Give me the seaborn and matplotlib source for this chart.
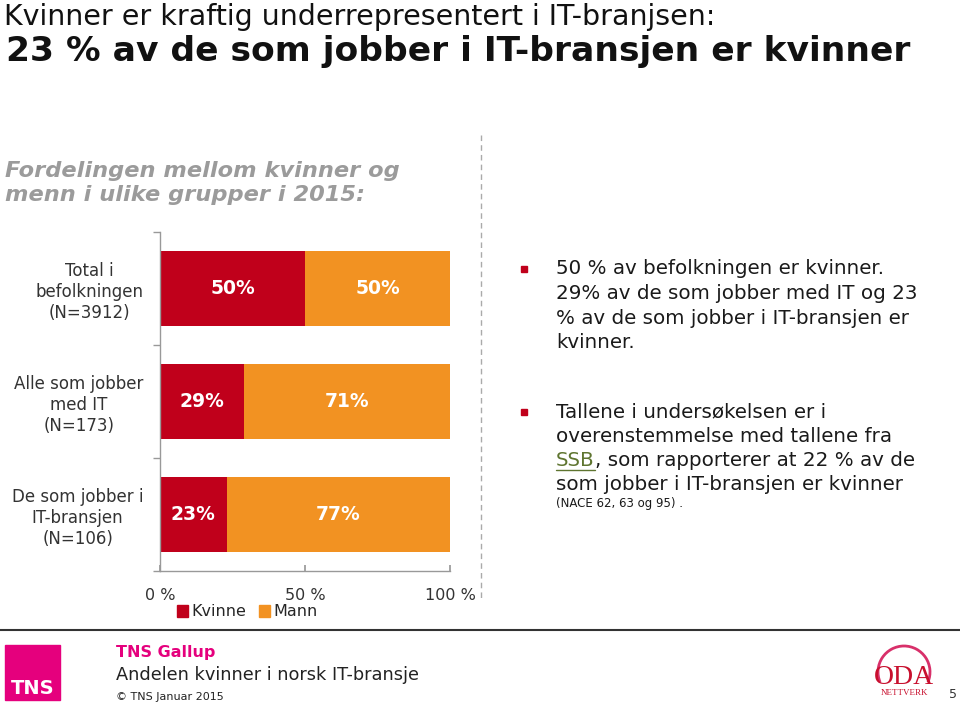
import matplotlib
matplotlib.use("Agg")
import matplotlib.pyplot as plt
import seaborn as sns
from matplotlib.patches import Rectangle, Patch, Arc
from matplotlib.lines import Line2D

# ---- data ----
groups = ["Total i\nbefolkningen\n(N=3912)",
          "Alle som jobber\nmed IT\n(N=173)",
          "De som jobber i\nIT-bransjen\n(N=106)"]
kvinne = [50, 29, 23]
mann = [50, 71, 77]
series_names = ["Kvinne", "Mann"]
x_ticks = [0, 50, 100]
x_ticklabels = ["0 %", "50 %", "100 %"]

RED = "#C0001B"
ORANGE = "#F29222"
MAGENTA = "#E5007D"

sns.set_theme(style="white")
plt.rcParams["font.family"] = ["DejaVu Sans"]

W, H = 960, 705
fig = plt.figure(figsize=(W / 100, H / 100), dpi=100)

def fx(px):
    return px / W

def fy(py):
    return 1 - py / H

# ---- bar chart ----
ax = fig.add_axes([fx(160), fy(571), fx(450) - fx(160), fy(232) - fy(571)])
total = [k + m for k, m in zip(kvinne, mann)]
sns.barplot(x=total, y=groups, color=ORANGE, orient="h", width=0.67,
            saturation=1, linewidth=0, ax=ax)
sns.barplot(x=kvinne, y=groups, color=RED, orient="h", width=0.67,
            saturation=1, linewidth=0, ax=ax)
c_red = ax.containers[1]
ax.bar_label(c_red, labels=[f"{v}%" for v in kvinne], label_type="center",
             color="white", fontweight="bold", fontsize=13.5)
# label orange segments at their visual centre
for i, (k, m) in enumerate(zip(kvinne, mann)):
    ax.text(k + m / 2, i, f"{m}%", ha="center", va="center",
            color="white", fontweight="bold", fontsize=13.5)

ax.set_xlim(0, 100)
ax.set_ylim(2.5, -0.5)
ax.set_xticks(x_ticks)
ax.set_xticklabels(x_ticklabels, fontsize=11.5, color="#333333")
ax.tick_params(axis="x", direction="in", length=4, color="#999999", pad=12,
               bottom=True)
ax.set_yticks([-0.5, 0.5, 1.5, 2.5], minor=True)
ax.tick_params(axis="y", which="minor", length=5, color="#999999", left=True)
ax.tick_params(axis="y", which="major", length=0, pad=12, labelsize=12,
               labelcolor="#333333")
for t in ax.get_yticklabels():
    t.set_multialignment("center")
    t.set_linespacing(1.2)
for s in ["top", "right"]:
    ax.spines[s].set_visible(False)
for s in ["left", "bottom"]:
    ax.spines[s].set_color("#999999")
    ax.spines[s].set_linewidth(1)
ax.set_xlabel("")
ax.set_ylabel("")

handles = [Patch(color=RED), Patch(color=ORANGE)]
fig.legend(handles, series_names, loc="center", bbox_to_anchor=(fx(247), fy(612)),
           ncol=2, frameon=False, fontsize=11.5, handlelength=0.7, handleheight=0.7,
           handletextpad=0.2, columnspacing=0.8, borderpad=0)

# ---- titles ----
fig.text(fx(4), fy(17), "Kvinner er kraftig underrepresentert i IT-branjsen:",
         fontsize=20.5, ha="left", va="center", color="#111111")
fig.text(fx(6), fy(51), "23 % av de som jobber i IT-bransjen er kvinner",
         fontsize=24.8, fontweight="bold", ha="left", va="center", color="#111111")
fig.text(fx(5), fy(183), "Fordelingen mellom kvinner og\nmenn i ulike grupper i 2015:",
         fontsize=16.2, fontweight="bold", style="italic", ha="left", va="center",
         color="#9B9B9B", linespacing=1.2)

# dashed separator
fig.add_artist(Line2D([fx(481), fx(481)], [fy(135), fy(600)], color="#AAAAAA",
                      lw=1, ls=(0, (4, 3))))

# ---- bullet text ----
def bullet(py):
    fig.add_artist(Rectangle((fx(521), fy(py + 3)), fx(6), 6 / H, color=RED,
                             transform=fig.transFigure))

TXT = 14.3
LS = 24.5
bullet(269)
block1 = ["50 % av befolkningen er kvinner.",
          "29% av de som jobber med IT og 23",
          "% av de som jobber i IT-bransjen er",
          "kvinner."]
for i, line in enumerate(block1):
    fig.text(fx(556), fy(269 + i * LS), line, fontsize=TXT, ha="left", va="center",
             color="#1A1A1A")

bullet(412)
block2 = ["Tallene i undersøkelsen er i",
          "overenstemmelse med tallene fra"]
for i, line in enumerate(block2):
    fig.text(fx(556), fy(412 + i * LS), line, fontsize=TXT, ha="left", va="center",
             color="#1A1A1A")
ssb = fig.text(fx(556), fy(460), "SSB", fontsize=TXT, ha="left", va="center",
               color="#5F7530")
fig.canvas.draw()
bb = ssb.get_window_extent()
fig.add_artist(Line2D([bb.x0 / W, bb.x1 / W], [fy(470), fy(470)], color="#5F7530",
                      lw=1))
fig.text(bb.x1 / W, fy(460), ", som rapporterer at 22 % av de", fontsize=TXT,
         ha="left", va="center", color="#1A1A1A")
fig.text(fx(556), fy(484), "som jobber i IT-bransjen er kvinner", fontsize=TXT,
         ha="left", va="center", color="#1A1A1A")
fig.text(fx(556), fy(503), "(NACE 62, 63 og 95) .", fontsize=8.5, ha="left",
         va="center", color="#1A1A1A")

# ---- footer ----
fig.add_artist(Line2D([0, 1], [fy(630), fy(630)], color="#333333", lw=1.5))
fig.add_artist(Rectangle((fx(5), fy(700)), fx(55), 55 / H, color=MAGENTA,
                         transform=fig.transFigure))
fig.text(fx(33), fy(689), "TNS", fontsize=14, fontweight="bold", color="white",
         ha="center", va="center")
fig.text(fx(116), fy(653), "TNS Gallup", fontsize=11.5, fontweight="bold",
         color=MAGENTA, ha="left", va="center")
fig.text(fx(116), fy(675), "Andelen kvinner i norsk IT-bransje", fontsize=12.8,
         color="#222222", ha="left", va="center")
fig.text(fx(116), fy(697), "© TNS Januar 2015", fontsize=8, color="#222222",
         ha="left", va="center")

# ODA logo
fig.add_artist(Arc((fx(904), fy(672)), 52 / W, 52 / H, theta1=-30, theta2=210,
                   color="#D8306A", lw=2, transform=fig.transFigure))
fig.text(fx(904), fy(677), "ODA", fontsize=20, color="#C8102E", ha="center",
         va="center", family="Liberation Serif")
fig.text(fx(904), fy(693), "NETTVERK", fontsize=6.5, color="#C8102E", ha="center",
         va="center", family="Liberation Serif")
fig.text(fx(953), fy(695), "5", fontsize=9, color="#333333", ha="center",
         va="center")

fig.savefig("out.png", dpi=100)
